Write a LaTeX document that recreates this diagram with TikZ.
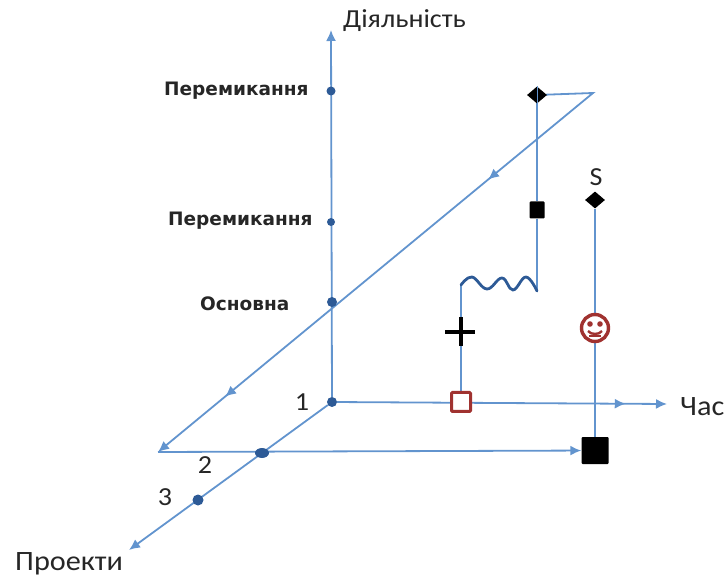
\documentclass[tikz,border=0pt]{standalone}
\usepackage{fontspec}
\setmainfont{Carlito}
\newfontfamily\bigfont[FakeStretch=1.08]{Carlito}
\newfontfamily\labelfont{DejaVu Sans}
\usetikzlibrary{arrows.meta,backgrounds,decorations.markings,shapes.geometric}
\definecolor{linecol}{RGB}{98,148,206}
\definecolor{dotcol}{RGB}{45,90,150}
\definecolor{redcol}{RGB}{160,50,48}
\tikzset{
  line/.style={linecol, line width=1.8pt},
  axis/.style={line, -{Latex[length=11pt,width=10pt]}},
  dotnode/.style={circle, fill=dotcol, inner sep=0pt, minimum size=9pt},
  blacksq/.style={rectangle, fill=black, rounded corners=1pt, inner sep=0pt},
  blackdia/.style={diamond, fill=black, inner sep=0pt, minimum width=20pt, minimum height=17pt},
  biglabel/.style={font=\bigfont\fontsize{26}{26}\selectfont, text=black!85},
  boldlabel/.style={font=\labelfont\bfseries\fontsize{18.5}{20}\selectfont, text=black!85},
  midarrow/.style={postaction={decorate, decoration={markings,
    mark=at position #1 with {\arrow[linecol]{Latex[length=11pt,width=10pt]}}}}}
}
\begin{document}
\begin{tikzpicture}[x=1pt,y=-1pt]
  \useasboundingbox (0,0) rectangle (726,577);

  % Opornye tochky
  \coordinate (top) at (331,30);
  \coordinate (timeend) at (667,404);
  \coordinate (projend) at (129,550);
  \coordinate (corner) at (593,93);
  \coordinate (left) at (158,452);
  \coordinate (wavea) at (461,285);
  \coordinate (waveb) at (537,291);

  % Vuzly na osi
  \node[dotnode, minimum size=10pt] (orig) at (332,402) {};
  \node[dotnode] (sw1) at (331,91) {};
  \node[dotnode, minimum size=8pt] (sw2) at (331,222) {};
  \node[dotnode, minimum size=10pt] (main) at (332,302) {};
  \node[dotnode, ellipse, minimum width=14pt, minimum height=10pt] (p2) at (262,453) {};
  \node[dotnode, minimum size=11pt] (p3) at (198,500) {};

  % Vuzly trajektorij
  \node[blackdia] (dia1) at (537,95) {};
  \node[blacksq, minimum width=15pt, minimum height=17pt] (sq1) at (537,210) {};
  \node[blackdia] (dia2) at (595,200) {};
  \node[blacksq, minimum size=27pt] (sq2) at (595,450.5) {};
  \node[draw=redcol, line width=3pt, fill=white, rounded corners=1pt, inner sep=0pt, minimum size=19pt] (hollow) at (461,402) {};
  \node[draw=redcol, line width=3.4pt, fill=white, circle, inner sep=0pt, minimum size=27pt] (smile) at (595,328) {};

  \begin{scope}[on background layer]
    % Osi
    \draw[axis] (orig) -- (top);
    \draw[axis, midarrow=0.875] (orig) -- (timeend);
    \draw[axis] (orig) -- (projend);

    % Trajektorija
    \draw[axis, midarrow=0.31, midarrow=0.86] (dia1.center) -- (corner) -- (left);
    \draw[axis] (left) -- (sq2);
    \draw[line] (dia1.center) -- (sq1);
    \draw[line] (sq1) -- (waveb);
    \draw[line] (hollow) -- (wavea);
    \draw[line] (dia2) -- (smile);
    \draw[line] (smile) -- (sq2);
  \end{scope}
  \draw[linecol, line width=1pt] (dia1.north) -- (dia1.south);
  \draw[dotcol, line width=2.8pt, line cap=round] plot[smooth, tension=0.7] coordinates
    {(wavea) (472,277) (487,289) (502,278) (513,290) (526,277) (waveb)};

  % Plus
  \draw[black, line width=3.4pt] (445,332) -- (475,332);
  \draw[black, line width=3.4pt] (461,317) -- (461,346);

  % Smajl
  \fill[redcol] (590,324) circle (2.8pt);
  \fill[redcol] (600,324) circle (2.8pt);
  \draw[redcol, line width=2.4pt] (588,331) .. controls (591,335) and (599,335) .. (602,331);
  \draw[redcol, line width=2pt] (589,336) -- (601,336);

  % Pidpysy
  \node[biglabel, anchor=base west, inner sep=0pt] (yname) at (343,28) {Діяльність};
  \node[biglabel, anchor=base west, inner sep=0pt, font=\bigfont\fontsize{28}{28}\selectfont] (tname) at (680,416) {Час};
  \node[biglabel, anchor=base west, inner sep=0pt, font=\bigfont\fontsize{28}{28}\selectfont] (pname) at (15,570) {Проекти};
  \node[biglabel] (sname) at (596,177) {S};
  \node[biglabel] (n1) at (302,402) {1};
  \node[biglabel] (n2) at (205,465) {2};
  \node[biglabel] (n3) at (165,497) {3};
  \node[boldlabel, anchor=west, inner sep=0pt] (lsw1) at (164,91) {Перемикання};
  \node[boldlabel, anchor=west, inner sep=0pt] (lsw2) at (168,221) {Перемикання};
  \node[boldlabel, anchor=west, inner sep=0pt] (lmain) at (200,304) {Основна};
\end{tikzpicture}
\end{document}
